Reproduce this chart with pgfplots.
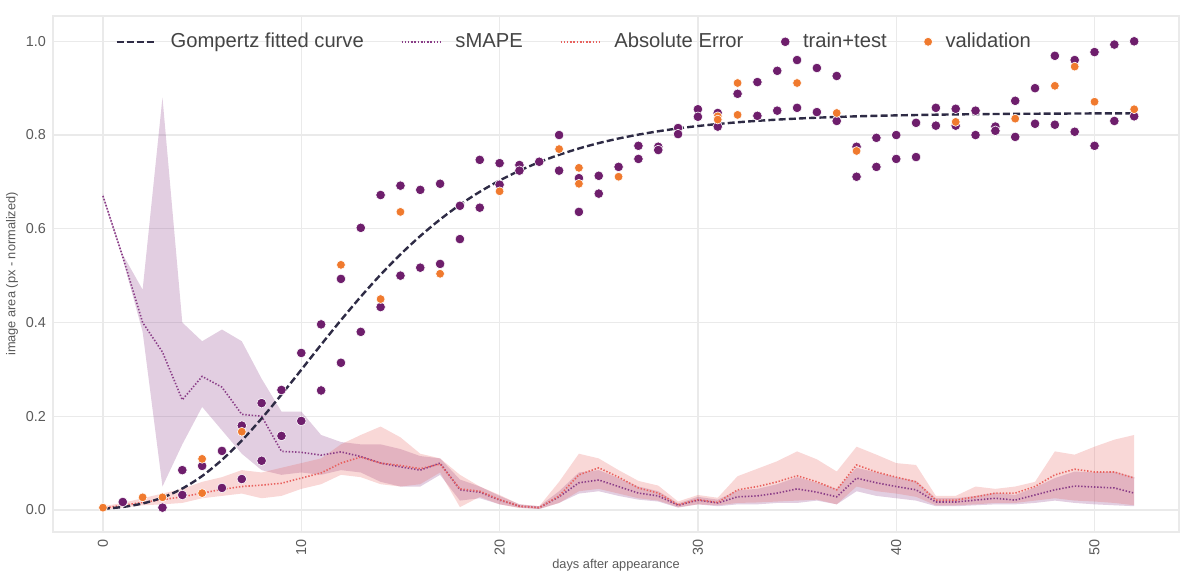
\documentclass[border=0pt]{standalone}
\usepackage{fontspec}
\setmainfont{Liberation Sans}
\usepackage{pgfplots}
\pgfplotsset{compat=1.18}
\usepackage{pgfplotstable}
\usepgfplotslibrary{fillbetween}

\definecolor{gomp}{HTML}{2E2B45}
\definecolor{smape}{HTML}{8A3D87}
\definecolor{aecol}{HTML}{E8625F}
\definecolor{tt}{HTML}{6E1E6C}
\definecolor{val}{HTML}{F07A2E}
\definecolor{gridc}{HTML}{EAEAEA}
\definecolor{tickc}{HTML}{5A5A5A}
\definecolor{legtext}{HTML}{444444}

\pgfplotstableread{
d sm slo shi ae alo ahi
0 0.670 0.665 0.675 0.004 0.000 0.008
1 0.540 0.535 0.545 0.010 0.005 0.015
2 0.400 0.380 0.470 0.016 0.010 0.025
3 0.337 0.050 0.880 0.022 0.012 0.035
4 0.235 0.140 0.400 0.028 0.015 0.045
5 0.285 0.220 0.360 0.036 0.025 0.060
6 0.262 0.170 0.385 0.044 0.030 0.070
7 0.204 0.120 0.360 0.050 0.035 0.085
8 0.200 0.085 0.280 0.053 0.025 0.080
9 0.125 0.075 0.210 0.057 0.030 0.090
10 0.123 0.080 0.210 0.068 0.045 0.100
11 0.117 0.075 0.160 0.079 0.055 0.110
12 0.124 0.085 0.145 0.100 0.075 0.140
13 0.114 0.080 0.140 0.113 0.070 0.160
14 0.100 0.060 0.140 0.100 0.055 0.178
15 0.092 0.050 0.130 0.095 0.050 0.155
16 0.085 0.050 0.115 0.088 0.055 0.120
17 0.100 0.075 0.110 0.098 0.080 0.110
18 0.043 0.020 0.065 0.045 0.006 0.075
19 0.038 0.025 0.050 0.040 0.028 0.050
20 0.021 0.012 0.030 0.022 0.012 0.032
21 0.008 0.005 0.012 0.008 0.004 0.012
22 0.005 0.002 0.008 0.005 0.002 0.008
23 0.028 0.015 0.040 0.030 0.015 0.060
24 0.058 0.035 0.080 0.075 0.040 0.120
25 0.064 0.040 0.085 0.090 0.045 0.110
26 0.050 0.030 0.068 0.070 0.035 0.085
27 0.036 0.022 0.050 0.047 0.025 0.062
28 0.030 0.018 0.040 0.036 0.020 0.052
29 0.010 0.005 0.014 0.011 0.006 0.018
30 0.021 0.012 0.028 0.022 0.012 0.032
31 0.015 0.008 0.022 0.016 0.010 0.026
32 0.028 0.012 0.042 0.043 0.015 0.072
33 0.030 0.012 0.045 0.050 0.016 0.088
34 0.036 0.015 0.055 0.060 0.018 0.104
35 0.045 0.015 0.070 0.073 0.020 0.125
36 0.038 0.020 0.058 0.060 0.022 0.108
37 0.028 0.012 0.045 0.043 0.012 0.082
38 0.068 0.040 0.090 0.096 0.050 0.135
39 0.058 0.030 0.080 0.081 0.040 0.118
40 0.050 0.025 0.070 0.070 0.035 0.100
41 0.043 0.020 0.062 0.060 0.028 0.096
42 0.017 0.008 0.025 0.021 0.010 0.030
43 0.017 0.008 0.025 0.021 0.010 0.030
44 0.021 0.010 0.030 0.028 0.012 0.050
45 0.025 0.012 0.037 0.036 0.015 0.045
46 0.021 0.012 0.032 0.036 0.015 0.050
47 0.032 0.015 0.048 0.050 0.020 0.060
48 0.043 0.020 0.068 0.075 0.025 0.125
49 0.051 0.015 0.082 0.087 0.020 0.118
50 0.049 0.012 0.080 0.081 0.018 0.135
51 0.047 0.010 0.082 0.081 0.015 0.150
52 0.036 0.008 0.070 0.068 0.010 0.160
}\band

\pgfplotstableread{
d g
0 0.0025
1 0.0064
2 0.0138
3 0.0264
4 0.0457
5 0.0724
6 0.1069
7 0.1482
8 0.1952
9 0.2461
10 0.2991
11 0.3527
12 0.4050
13 0.4551
14 0.5020
15 0.5453
16 0.5845
17 0.6198
18 0.6513
19 0.6788
20 0.7029
21 0.7239
22 0.7421
23 0.7578
24 0.7713
25 0.7828
26 0.7926
27 0.8009
28 0.8080
29 0.8141
30 0.8192
31 0.8235
32 0.8272
33 0.8303
34 0.8329
35 0.8351
36 0.8370
37 0.8385
38 0.8399
39 0.8410
40 0.8419
42 0.8434
44 0.8445
46 0.8452
48 0.8457
50 0.8461
52 0.8464
}\gompertz

\pgfplotstableread{
d v
1 0.017
3 0.005
4 0.085
4 0.032
5 0.094
6 0.126
6 0.047
7 0.180
7 0.066
8 0.228
8 0.105
9 0.256
9 0.158
10 0.335
10 0.190
11 0.396
11 0.255
12 0.493
12 0.314
13 0.602
13 0.380
14 0.672
14 0.433
15 0.692
15 0.500
16 0.683
16 0.517
17 0.696
17 0.525
18 0.649
18 0.578
19 0.747
19 0.645
20 0.740
20 0.694
21 0.736
21 0.724
22 0.743
23 0.800
23 0.724
24 0.708
24 0.636
25 0.713
25 0.675
26 0.732
27 0.777
27 0.749
28 0.775
28 0.768
29 0.815
29 0.802
30 0.855
30 0.839
31 0.847
31 0.818
32 0.888
33 0.913
33 0.841
34 0.937
34 0.852
35 0.960
35 0.858
36 0.943
36 0.849
37 0.926
37 0.830
38 0.775
38 0.711
39 0.794
39 0.732
40 0.800
40 0.749
41 0.826
41 0.753
42 0.858
42 0.820
43 0.856
43 0.820
44 0.852
44 0.800
45 0.818
45 0.809
46 0.873
46 0.796
47 0.900
47 0.824
48 0.969
48 0.822
49 0.960
49 0.807
50 0.977
50 0.777
51 0.993
51 0.830
52 1.000
52 0.840
}\traintest

\pgfplotstableread{
d v
0 0.005
2 0.027
3 0.027
5 0.109
5 0.036
7 0.167
12 0.523
14 0.450
15 0.636
17 0.504
20 0.680
23 0.770
24 0.730
24 0.696
26 0.711
31 0.840
31 0.833
32 0.911
32 0.843
35 0.911
37 0.847
38 0.766
43 0.828
46 0.835
48 0.905
49 0.946
50 0.871
52 0.855
}\validation

\begin{document}
\begin{tikzpicture}
\begin{axis}[
  set layers,
  scale only axis,
  width=563pt, height=258pt,
  xmin=-2.52, xmax=54.26, ymin=-0.047, ymax=1.054,
  xtick={0,10,20,30,40,50},
  ytick={0,0.2,0.4,0.6,0.8,1.0},
  yticklabel style={/pgf/number format/.cd, fixed, fixed zerofill, precision=1},
  /pgf/number format/assume math mode=true,
  grid=major,
  major grid style={draw=gridc, line width=0.7pt},
  axis line style={draw=gridc, line width=0.7pt},
  tick style={draw=none},
  ticklabel style={font=\fontsize{7.2}{8}\selectfont, text=tickc},
  xticklabel style={rotate=90, anchor=east},
  xlabel={days after appearance},
  ylabel={image area (px - normalized)},
  label style={font=\fontsize{6.4}{7.5}\selectfont, text=tickc},
  xlabel style={at={(axis description cs:0.5,-0.064)}, anchor=center},
  ylabel style={at={(axis description cs:-0.0364,0.5)}, anchor=center},
  legend image code/.code={\draw[mark repeat=2,mark phase=2,#1] plot coordinates {(0pt,0pt) (10pt,0pt) (20pt,0pt)};},
  legend style={at={(0.055,0.95)}, anchor=west, draw=none, fill=none,
    inner sep=0pt, legend columns=-1,
    font=\fontsize{10.1}{12}\selectfont, text=legtext,
    /tikz/every odd column/.append style={column sep=4.5pt},
    /tikz/every even column/.append style={column sep=16.5pt}},
]
% bands
\addplot[draw=none, name path=shi, forget plot] table[x=d, y=shi]{\band};
\addplot[draw=none, name path=slo, forget plot] table[x=d, y=slo]{\band};
\addplot[fill=smape, fill opacity=0.25, draw=none, forget plot] fill between[of=shi and slo];
\addplot[draw=none, name path=ahi, forget plot] table[x=d, y=ahi]{\band};
\addplot[draw=none, name path=alo, forget plot] table[x=d, y=alo]{\band};
\addplot[fill=aecol, fill opacity=0.25, draw=none, forget plot] fill between[of=ahi and alo];

% legend
\addlegendimage{gomp, line width=1.2pt, dash pattern=on 3.5pt off 1.6pt}
\addlegendentry{Gompertz fitted curve}
\addlegendimage{smape, line width=0.8pt, dash pattern=on 0.7pt off 0.9pt}
\addlegendentry{sMAPE}
\addlegendimage{aecol, line width=0.8pt, dash pattern=on 0.7pt off 0.9pt}
\addlegendentry{Absolute Error}
\addlegendimage{only marks, mark=*, mark size=2.4pt, mark options={fill=tt, draw=white, line width=0.3pt}}
\addlegendentry{train+test}
\addlegendimage{only marks, mark=*, mark size=2.2pt, mark options={fill=val, draw=white, line width=0.3pt}}
\addlegendentry{validation}

% lines
\addplot[smape, line width=0.8pt, dash pattern=on 0.7pt off 0.9pt, forget plot] table[x=d, y=sm]{\band};
\addplot[aecol, line width=0.8pt, dash pattern=on 0.7pt off 0.9pt, forget plot] table[x=d, y=ae]{\band};

% scatter
\addplot[only marks, mark=*, mark size=2.4pt, mark options={fill=tt, draw=white, line width=0.3pt}, forget plot] table[x=d, y=v]{\traintest};
\addplot[only marks, mark=*, mark size=2.2pt, mark options={fill=val, draw=white, line width=0.3pt}, forget plot] table[x=d, y=v]{\validation};

% Gompertz curve
\addplot[gomp, line width=1.2pt, dash pattern=on 3.5pt off 1.6pt, smooth, forget plot] table[x=d, y=g]{\gompertz};
\end{axis}
\pgfresetboundingbox
\useasboundingbox (-26.5pt,-20pt) rectangle (565.5pt,266pt);
\end{tikzpicture}
\end{document}
